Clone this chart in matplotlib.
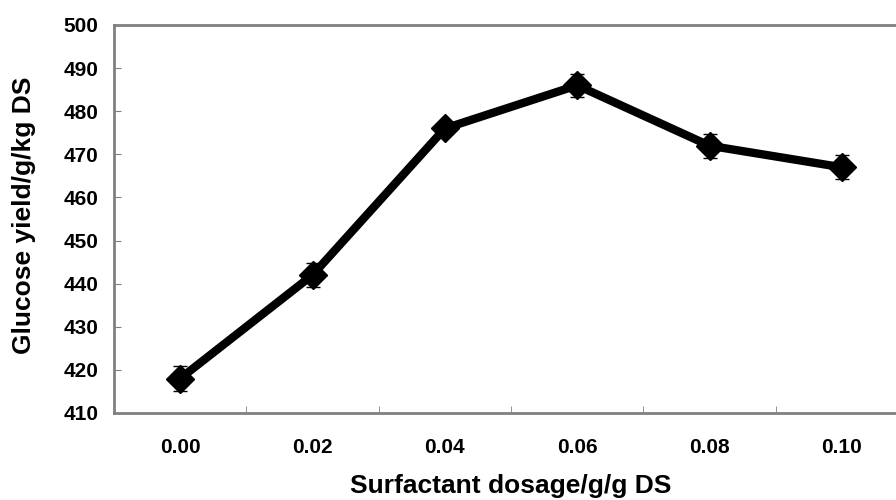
import numpy as np
import matplotlib.pyplot as plt

plt.rcParams['font.family'] = ['Liberation Sans', 'DejaVu Sans']
plt.rcParams['font.weight'] = 'bold'

# Data
dosage = ['0.00', '0.02', '0.04', '0.06', '0.08', '0.10']
glucose = [418, 442, 476, 486, 472, 467]
err = [2.8, 2.8, 1.0, 2.7, 2.8, 2.8]

fig = plt.figure(figsize=(8.96, 5.0), dpi=100)
ax = fig.add_axes([114 / 896, 1 - 413 / 500, 794 / 896, 388 / 500])

x = np.arange(len(dosage))
ax.errorbar(x, glucose, yerr=err, color='black', lw=6, marker='D', ms=14,
            ecolor='black', elinewidth=1, capsize=5, capthick=1)

ax.set_xlim(-0.5, len(dosage) - 0.5)
ax.set_ylim(410, 500)
ax.set_yticks(np.arange(410, 501, 10))
ax.set_xticks(x)
ax.set_xticklabels(dosage)
ax.set_xticks(np.arange(0.5, len(dosage) - 0.5, 1), minor=True)

for s in ax.spines.values():
    s.set_color('#808080')
    s.set_linewidth(2)

ax.tick_params(axis='x', which='major', length=0, pad=18, labelsize=15)
ax.tick_params(axis='x', which='minor', direction='in', length=5, color='#808080')
ax.tick_params(axis='y', direction='in', length=5, color='#808080', labelsize=15, pad=11)

ax.set_xlabel('Surfactant dosage/g/g DS', fontsize=19, fontweight='bold', labelpad=12.5)
ax.set_ylabel('Glucose yield/g/kg DS', fontsize=19, fontweight='bold')
ax.yaxis.set_label_coords(-0.098, 0.51)

fig.savefig('out.png', dpi=100)
